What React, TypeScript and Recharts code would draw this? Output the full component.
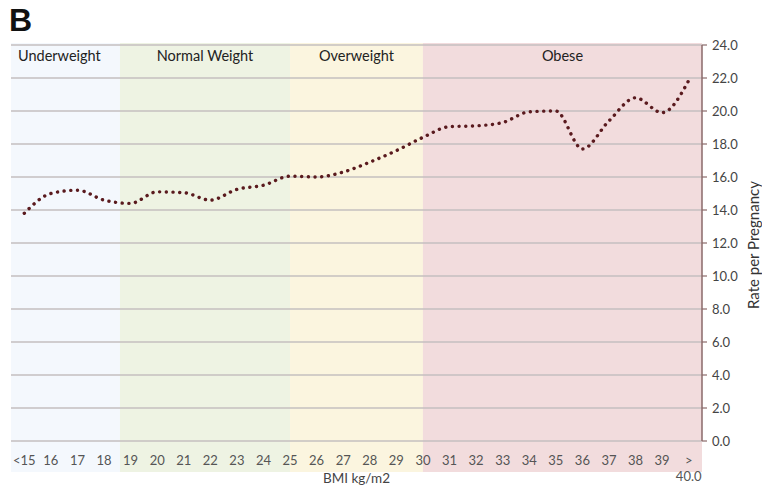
import React from 'react'
import { ComposedChart, Line, XAxis, YAxis, ReferenceArea, ReferenceLine, Label } from 'recharts'

// BMI categories along the x axis
const categories = ['<15', '16', '17', '18', '19', '20', '21', '22', '23', '24', '25', '26', '27', '28', '29', '30', '31', '32', '33', '34', '35', '36', '37', '38', '39', '>40.0']

// rate per pregnancy
const rates = [13.8, 15.0, 15.2, 14.6, 14.4, 15.1, 15.05, 14.6, 15.25, 15.5, 16.05, 16.0, 16.3, 16.9, 17.6, 18.4, 19.05, 19.1, 19.3, 19.95, 20.0, 17.7, 19.4, 20.8, 19.9, 21.85]

const yTicks = [0, 2, 4, 6, 8, 10, 12, 14, 16, 18, 20, 22, 24]

// weight classes, bounds in category positions (0 = left edge)
const bandNames = ['Underweight', 'Normal Weight', 'Overweight', 'Obese']
const bandStarts = [0, 4.1, 10.5, 15.5]
const bandEnds = [4.1, 10.5, 15.5, 26]
const bandColors = ['#f4f8fd', '#eef3e3', '#fbf5df', '#f2dcdd']

const data = categories.map((c, i) => ({ pos: i + 0.5, label: c, rate: rates[i] }))
const xTicks = data.map(d => d.pos)

const FONT = 'Lato, "Open Sans", sans-serif'

const BandShape = (name: string, fill: string, first: boolean) => (props: any) => {
  const { x, y, width, height } = props
  return (
    <g>
      <rect x={x} y={y - 2} width={width} height={height + 33} fill={fill} />
      <text
        x={first ? x + 7 : x + width / 2}
        y={y + 16}
        textAnchor={first ? 'start' : 'middle'}
        fontFamily={FONT}
        fontSize={14.5}
        fill="#222"
      >
        {name}
      </text>
    </g>
  )
}

const XTick = ({ x, y, payload }: any) => {
  const label = categories[Math.round(payload.value - 0.5)] || ''
  if (label.startsWith('>')) {
    return (
      <g>
        <text x={x} y={y + 16} textAnchor="middle" fontFamily={FONT} fontSize={13} fill="#555">&gt;</text>
        <text x={x} y={y + 32} textAnchor="middle" fontFamily={FONT} fontSize={13} fill="#555">{label.slice(1)}</text>
      </g>
    )
  }
  return (
    <text x={x} y={y + 16} textAnchor="middle" fontFamily={FONT} fontSize={13} fill="#555">{label}</text>
  )
}

const XTitle = ({ viewBox }: any) => (
  <text x={viewBox.x + viewBox.width / 2} y={viewBox.y + 42} textAnchor="middle" fontFamily={FONT} fontSize={13.5} fill="#444">
    BMI kg/m2
  </text>
)

const YTitle = ({ viewBox }: any) => {
  const cx = viewBox.x + 51
  const cy = viewBox.y + viewBox.height / 2 + 2
  return (
    <text x={cx} y={cy} transform={`rotate(-90 ${cx} ${cy})`} textAnchor="middle" dominantBaseline="central" fontFamily={FONT} fontSize={15} fill="#333">
      Rate per Pregnancy
    </text>
  )
}

export default function App() {
  return (
    <div style={{ position: 'absolute', left: 0, top: 0, width: 762, height: 489, background: '#fff' }}>
      <div style={{ position: 'absolute', left: 9, top: 2, fontFamily: '"Liberation Sans", Arial, sans-serif', fontWeight: 700, fontSize: 32, color: '#111' }}>
        B
      </div>
      <ComposedChart width={762} height={489} data={data} margin={{ top: 45, right: 0, bottom: 0, left: 11 }}>
        {bandNames.map((name, i) => (
          <ReferenceArea
            key={name}
            x1={bandStarts[i]}
            x2={bandEnds[i]}
            ifOverflow="visible"
            shape={BandShape(name, bandColors[i], i === 0)}
          />
        ))}
        {yTicks.map(t => (
          <ReferenceLine key={t} y={t} stroke="#c4bfbf" strokeWidth={1.3} />
        ))}
        <XAxis
          dataKey="pos"
          type="number"
          domain={[0, 26]}
          ticks={xTicks}
          interval={0}
          axisLine={false}
          tickLine={false}
          height={48}
          tick={<XTick />}
        >
          <Label content={<XTitle />} />
        </XAxis>
        <YAxis
          orientation="right"
          domain={[0, 24]}
          ticks={yTicks}
          interval={0}
          width={60}
          tickFormatter={(v: number) => v.toFixed(1)}
          axisLine={{ stroke: '#8a6a6a', strokeWidth: 1.5 }}
          tickLine={{ stroke: '#8a6a6a', strokeWidth: 1.2 }}
          tickSize={5}
          tickMargin={5}
          tick={{ fill: '#444', fontSize: 13, fontFamily: FONT }}
        >
          <Label content={<YTitle />} />
        </YAxis>
        <Line
          dataKey="rate"
          type="monotone"
          stroke="#5a1a1e"
          strokeWidth={3.4}
          strokeDasharray="0.1 6.6"
          strokeLinecap="round"
          dot={false}
          activeDot={false}
          isAnimationActive={false}
        />
      </ComposedChart>
    </div>
  )
}
